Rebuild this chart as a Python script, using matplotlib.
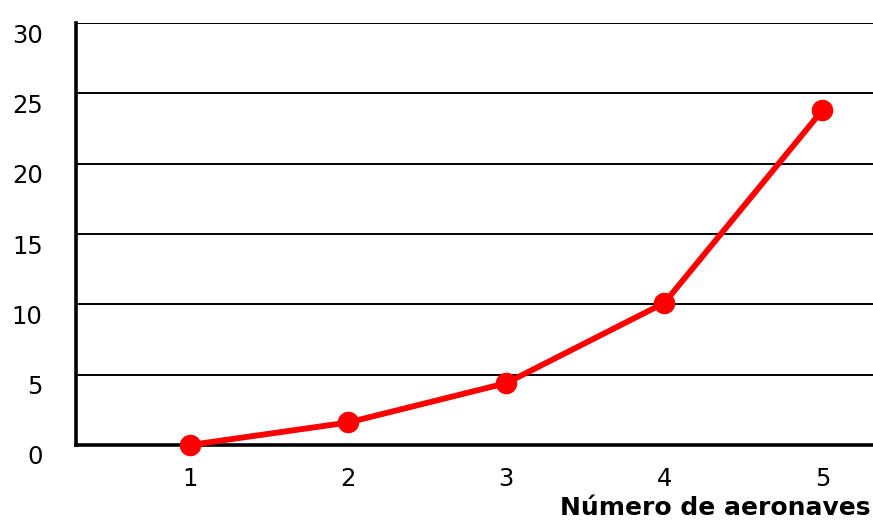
import matplotlib
matplotlib.use("Agg")
import matplotlib.pyplot as plt
import matplotlib.transforms as mtransforms

# Data
aeronaves = [1, 2, 3, 4, 5]
valores = [0.0, 1.6, 4.4, 10.1, 23.8]
y_ticks = [0, 5, 10, 15, 20, 25, 30]
x_label = "Número de aeronaves"

plt.rcParams["font.family"] = ["DejaVu Sans"]

fig = plt.figure(figsize=(8.73, 5.2), dpi=100)
ax = fig.add_axes([76 / 873, 75 / 520, 1 - 76 / 873, 422 / 520])

ax.set_ylim(0, 30)
ax.set_xlim(0.278, 5.32)
ax.set_yticks(y_ticks)
ax.set_xticks(aeronaves)
ax.set_xticklabels([str(a) for a in aeronaves])

# horizontal grid
for yv in y_ticks[1:]:
    ax.axhline(yv, color="black", lw=1.4, zorder=1)

ax.plot(aeronaves, valores, color="#ff0000", lw=4.2, marker="o",
        markersize=14.5, zorder=3, clip_on=False)

for side in ("top", "right"):
    ax.spines[side].set_visible(False)
ax.spines["left"].set_linewidth(2.6)
ax.spines["bottom"].set_linewidth(2.6)
ax.spines["bottom"].set_zorder(2)

ax.tick_params(axis="both", length=0, labelsize=17.5, colors="black")
ax.tick_params(axis="y", pad=24)
ax.tick_params(axis="x", pad=16)

# y labels sit a little below their grid lines
offset = mtransforms.ScaledTranslation(0, -10 / 100, fig.dpi_scale_trans)
for lab in ax.get_yticklabels():
    lab.set_transform(lab.get_transform() + offset)

fig.text(871 / 873, 1 - 508 / 520, x_label, ha="right", va="center",
         fontsize=18, fontweight="bold", color="black")

fig.savefig("out.png", dpi=100, facecolor="white")
